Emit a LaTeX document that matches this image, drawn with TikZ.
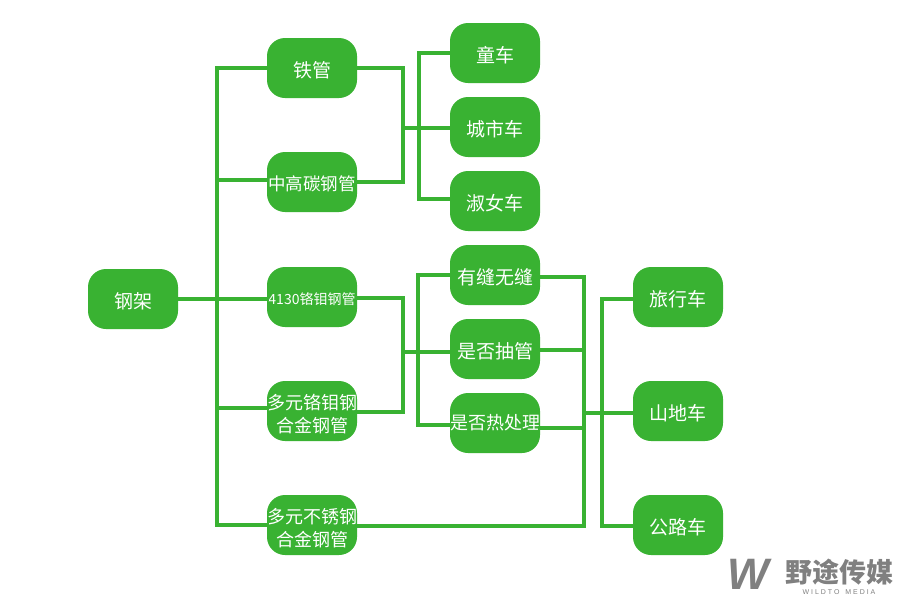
\documentclass[tikz,border=0pt]{standalone}
\usepackage{fontspec}
\setmainfont{Noto Sans CJK SC}
\newfontfamily\logofont{Liberation Sans}
\definecolor{leaf}{HTML}{39B232}
\tikzset{
	plainitem/.style={fill=leaf, rounded corners=18pt, minimum width=90pt, minimum height=60pt, inner sep=0pt, align=center, text=white, font=\fontsize{19}{23}\selectfont},
	low/.style={execute at begin node={\rule{0pt}{#1}}},
	item/.style={plainitem, low=1.1em},
	twolines/.style={plainitem, low=45pt, font=\fontsize{18}{23}\selectfont},
	link/.style={draw=leaf, line width=4pt, line cap=rect},
	mark text/.style={text=black!50, inner sep=0pt}
}
\begin{document}
\begin{tikzpicture}[x=1pt, y=-1pt]
	\useasboundingbox (0,0) rectangle (900,600);
	% connectors first
	\coordinate (busa) at (217,299);
	\coordinate (busat) at (217,68);
	\coordinate (busab) at (217,525);
	\coordinate (joinb) at (403,128);
	\coordinate (joinbt) at (403,68);
	\coordinate (joinbb) at (403,182);
	\coordinate (busb) at (419,128);
	\coordinate (busbt) at (419,53);
	\coordinate (busbb) at (419,199);
	\coordinate (joinc) at (403,352);
	\coordinate (joinct) at (403,298);
	\coordinate (joincb) at (403,412);
	\coordinate (busc) at (418,352);
	\coordinate (busct) at (418,275);
	\coordinate (buscb) at (418,425);
	\coordinate (joind) at (584,413);
	\coordinate (joindt) at (584,277);
	\coordinate (joindm) at (584,350);
	\coordinate (joindn) at (584,428);
	\coordinate (joindb) at (584,526);
	\coordinate (busd) at (602,413);
	\coordinate (busdt) at (602,299);
	\coordinate (busdb) at (602,526);
	\node[item] (frame) at (133,299) {钢架};
	\node[item] (iron) at (312,68) {铁管};
	\node[item, font=\fontsize{17.5}{23}\selectfont] (carbon) at (312,182) {中高碳钢管};
	\node[item, font=\fontsize{14}{17}\selectfont] (crmo) at (312,297) {4130铬钼钢管};
	\node[twolines] (multi) at (312,411) {多元铬钼钢\\合金钢管};
	\node[twolines] (steel) at (312,525) {多元不锈钢\\合金钢管};
	\node[item] (kids) at (495,53) {童车};
	\node[item] (city) at (495,127) {城市车};
	\node[item] (lady) at (495,201) {淑女车};
	\node[item] (seam) at (495,275) {有缝无缝};
	\node[item] (draw) at (495,349) {是否抽管};
	\node[plainitem, font=\fontsize{18}{23}\selectfont] (heat) at (495,423) {是否热处理};
	\node[item] (tour) at (678,297) {旅行车};
	\node[item] (mtb) at (678,411) {山地车};
	\node[item] (road) at (678,525) {公路车};
	\draw[link] (frame.east |- busa) -- (busa);
	\draw[link] (busat) -- (busab);
	\draw[link] (busat) -- (iron.west |- busat);
	\draw[link] (carbon.west |- 0,180) -- (217,180);
	\draw[link] (busa) -- (crmo.west |- busa);
	\draw[link] (multi.west |- 0,408) -- (217,408);
	\draw[link] (busab) -- (steel.west |- busab);
	\draw[link] (iron.east |- joinbt) -- (joinbt) -- (joinbb) -- (carbon.east |- joinbb);
	\draw[link] (joinb) -- (city.west |- joinb);
	\draw[link] (kids.west |- busbt) -- (busbt) -- (busbb) -- (lady.west |- busbb);
	\draw[link] (crmo.east |- joinct) -- (joinct) -- (joincb) -- (multi.east |- joincb);
	\draw[link] (joinc) -- (draw.west |- joinc);
	\draw[link] (seam.west |- busct) -- (busct) -- (buscb) -- (heat.west |- buscb);
	\draw[link] (seam.east |- joindt) -- (joindt) -- (joindb) -- (steel.east |- joindb);
	\draw[link] (draw.east |- joindm) -- (joindm);
	\draw[link] (heat.east |- joindn) -- (joindn);
	\draw[link] (joind) -- (mtb.west |- joind);
	\draw[link] (tour.west |- busdt) -- (busdt) -- (busdb) -- (road.west |- busdb);
	% watermark
	\node[mark text, font=\logofont\bfseries\itshape\fontsize{44}{44}\selectfont] (logo) at (748,574) {W};
	\node[mark text, font=\bfseries\fontsize{27}{27}\selectfont] (brand) at (839,572) {野途传媒};
	\node[mark text, font=\logofont\fontsize{7}{7}\selectfont] (brandsub) at (839,592) {W I L D T O \ \ M E D I A};
\end{tikzpicture}
\end{document}
